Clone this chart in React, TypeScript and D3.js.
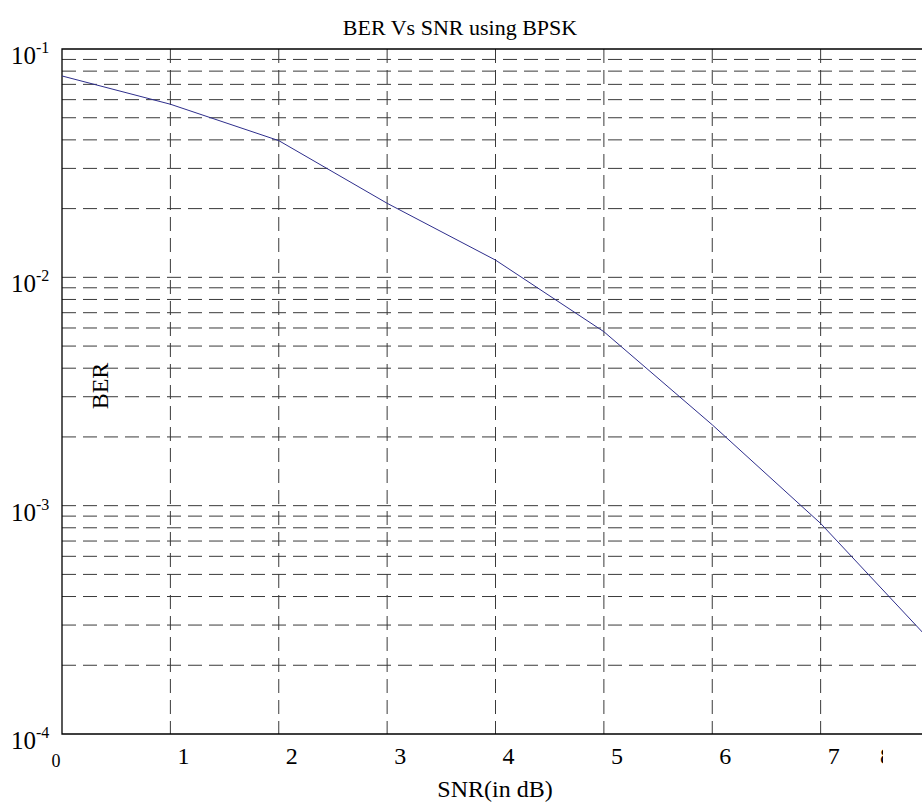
import React, { useEffect, useRef } from 'react';
import * as d3 from 'd3';

// SNR in dB and the simulated BPSK bit error rate
const snr = [0, 1, 2, 3, 4, 5, 6, 7, 8];
const ber = [0.0762, 0.0573, 0.0397, 0.0211, 0.0119, 0.00578, 0.00226, 0.000836, 0.00026];
const xTicks = [0, 1, 2, 3, 4, 5, 6, 7, 8];
const yMajor = [1e-1, 1e-2, 1e-3, 1e-4];
const yExp = ['-1', '-2', '-3', '-4'];

const App = () => {
  const svgRef = useRef<SVGSVGElement>(null);

  useEffect(() => {
    const svg = d3.select(svgRef.current);
    svg.selectAll('*').remove();

    const width = 922;
    const height = 805;
    const margin = { top: 49, left: 62, bottom: 734 };
    const font = '"Liberation Serif", "Times New Roman", serif';

    const x = d3.scaleLinear().domain([0, 8]).range([margin.left, 929]);
    const y = d3.scaleLog().domain([1e-4, 1e-1]).range([margin.bottom, margin.top]);

    svg.attr('width', width).attr('height', height);

    svg.append('rect').attr('width', width).attr('height', height).attr('fill', 'white');

    svg.append('defs').append('clipPath').attr('id', 'plot')
      .append('rect')
      .attr('x', margin.left).attr('y', margin.top)
      .attr('width', width - margin.left).attr('height', margin.bottom - margin.top);

    // horizontal grid (all log ticks inside the domain)
    const yGrid = y.ticks().filter(v => v > 1e-4 && v < 1e-1);
    svg.append('g')
      .selectAll('line')
      .data(yGrid)
      .join('line')
      .attr('x1', margin.left).attr('x2', width)
      .attr('y1', d => y(d)).attr('y2', d => y(d))
      .attr('stroke', '#3a3a3a')
      .attr('stroke-width', 1)
      .attr('stroke-dasharray', '14 7');

    // vertical grid
    svg.append('g')
      .selectAll('line')
      .data(xTicks.filter(v => v > 0))
      .join('line')
      .attr('x1', d => x(d)).attr('x2', d => x(d))
      .attr('y1', margin.top).attr('y2', margin.bottom)
      .attr('stroke', '#3a3a3a')
      .attr('stroke-width', 1)
      .attr('stroke-dasharray', '14 7');

    // axes box
    svg.append('path')
      .attr('d', `M${width},${margin.top}H${margin.left}V${margin.bottom}H${width}`)
      .attr('fill', 'none')
      .attr('stroke', 'black')
      .attr('stroke-width', 1.3);

    const line = d3.line<number>()
      .x((d, i) => x(snr[i]))
      .y(d => y(d));

    svg.append('path')
      .datum(ber)
      .attr('clip-path', 'url(#plot)')
      .attr('fill', 'none')
      .attr('stroke', '#2e2e8c')
      .attr('stroke-width', 1)
      .attr('d', line);

    // y tick labels 10^n
    const yl = svg.append('g').attr('font-family', font).attr('fill', 'black');
    yMajor.forEach((v, i) => {
      const t = yl.append('text')
        .attr('x', 11)
        .attr('y', y(v) + 15)
        .attr('font-size', 25);
      t.append('tspan').text('10');
      t.append('tspan').attr('font-size', 16).attr('dy', -11).text(yExp[i]);
    });

    // x tick labels (the last one is cut by the figure edge, as in the source)
    const xl = svg.append('g').attr('font-family', font).attr('font-size', 24).attr('fill', 'black');
    xl.append('defs').append('clipPath').attr('id', 'xlab')
      .append('rect').attr('x', 0).attr('y', 700).attr('width', 883).attr('height', 100);
    xTicks.forEach(v => {
      if (v === 0) {
        xl.append('text')
          .attr('x', 56).attr('y', 767)
          .attr('font-size', 18)
          .attr('text-anchor', 'middle')
          .text(v);
      } else if (v === 8) {
        xl.append('text')
          .attr('x', 886).attr('y', 764)
          .attr('text-anchor', 'middle')
          .attr('clip-path', 'url(#xlab)')
          .text(v);
      } else {
        xl.append('text')
          .attr('x', x(v) + 13).attr('y', 764)
          .attr('text-anchor', 'middle')
          .text(v);
      }
    });

    svg.append('text')
      .attr('x', 495).attr('y', 797)
      .attr('text-anchor', 'middle')
      .attr('font-family', font)
      .attr('font-size', 24)
      .text('SNR(in dB)');

    svg.append('text')
      .attr('x', 460).attr('y', 35)
      .attr('text-anchor', 'middle')
      .attr('font-family', font)
      .attr('font-size', 22)
      .text('BER Vs SNR using BPSK');

    svg.append('text')
      .attr('transform', 'translate(108,386) rotate(-90)')
      .attr('text-anchor', 'middle')
      .attr('font-family', font)
      .attr('font-size', 24)
      .text('BER');
  }, []);

  return <svg ref={svgRef} style={{ position: 'absolute', left: 0, top: 0, display: 'block' }}></svg>;
};

export default App;
